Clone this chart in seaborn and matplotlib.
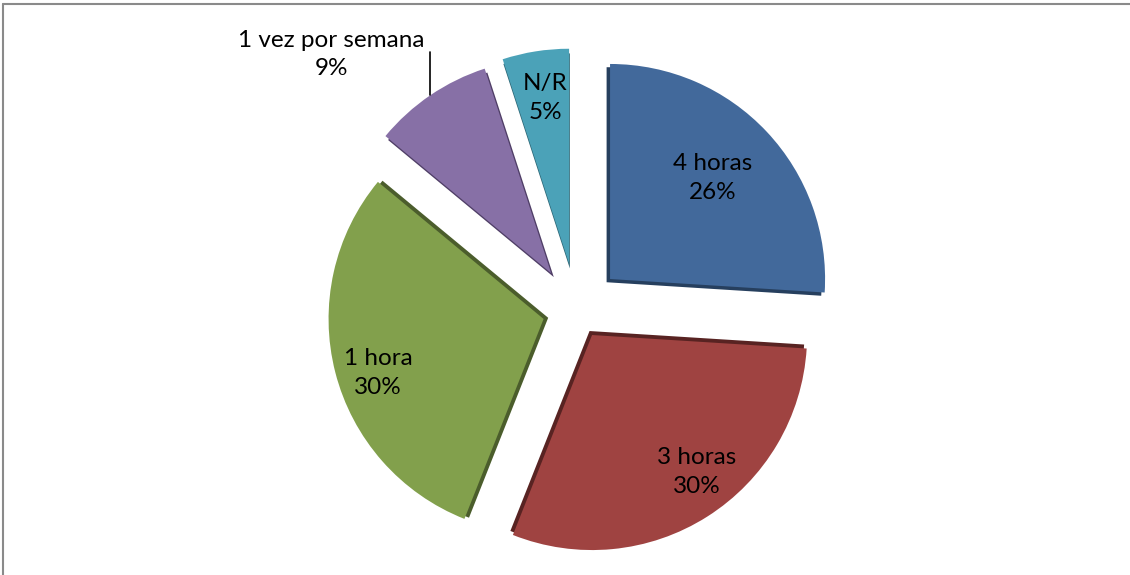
import numpy as np
import matplotlib
matplotlib.use("Agg")
import matplotlib.pyplot as plt
from matplotlib.lines import Line2D
import seaborn as sns

# data
labels = ["4 horas", "3 horas", "1 hora", "1 vez por semana", "N/R"]
values = [26, 30, 30, 9, 5]

# look of the slices
explode = [0.214, 0.135, 0.158, 0.21, 0.22]
colors = ["#42699b", "#9f4341", "#82a04c", "#8770a6", "#4ba2b8"]
side_colors = ["#263f5e", "#582322", "#4b5d2c", "#4f3e66", "#2c6574"]
label_dist = [0.67, 0.80, 0.81, None, 0.78]
label_turn = [1.2, 5.0, 3.6, 0.0, -0.8]

sns.set_theme(style="white")
plt.rcParams["font.family"] = ["Lato", "DejaVu Sans"]

fig = plt.figure(figsize=(11.3, 5.75), dpi=100)
ax = fig.add_axes([0, 0, 1, 1])

# darker copy pulled toward the middle gives the slab sides
ax.pie(values, explode=[e - 0.022 for e in explode], startangle=90,
       counterclock=False, colors=side_colors, radius=1,
       wedgeprops=dict(linewidth=0))
wedges, _ = ax.pie(values, explode=explode, startangle=90,
                   counterclock=False, colors=colors, radius=1,
                   wedgeprops=dict(linewidth=0))

for i, w in enumerate(wedges):
    mid = np.deg2rad((w.theta1 + w.theta2) / 2)
    cx, cy = w.center
    txt = f"{labels[i]}\n{values[i]}%"
    if label_dist[i] is None:
        # outside label with leader line
        px, py = cx + w.r * np.cos(mid), cy + w.r * np.sin(mid)
        ax.plot([px, px], [py, py + 0.2], color="black", lw=1.2)
        ax.text(px - 0.46, py + 0.19, txt, ha="center", va="center",
                fontsize=17.5, linespacing=1.45, color="black")
    else:
        a = mid + np.deg2rad(label_turn[i])
        ax.text(cx + label_dist[i] * np.cos(a), cy + label_dist[i] * np.sin(a),
                txt, ha="center", va="center", fontsize=17.5,
                linespacing=1.45, color="black")

ax.set_xlim(-2.681, 2.574)
ax.set_ylim(-1.230, 1.444)
ax.set_aspect("auto")
ax.axis("off")

# chart frame (only top and left edges are inside the picture)
fig.add_artist(Line2D([3 / 1130, 1], [1 - 4 / 575, 1 - 4 / 575],
                      transform=fig.transFigure, color="#8a8a8a", lw=1.5))
fig.add_artist(Line2D([3 / 1130, 3 / 1130], [0, 1 - 4 / 575],
                      transform=fig.transFigure, color="#8a8a8a", lw=1.5))

fig.savefig("out.png", dpi=100)
